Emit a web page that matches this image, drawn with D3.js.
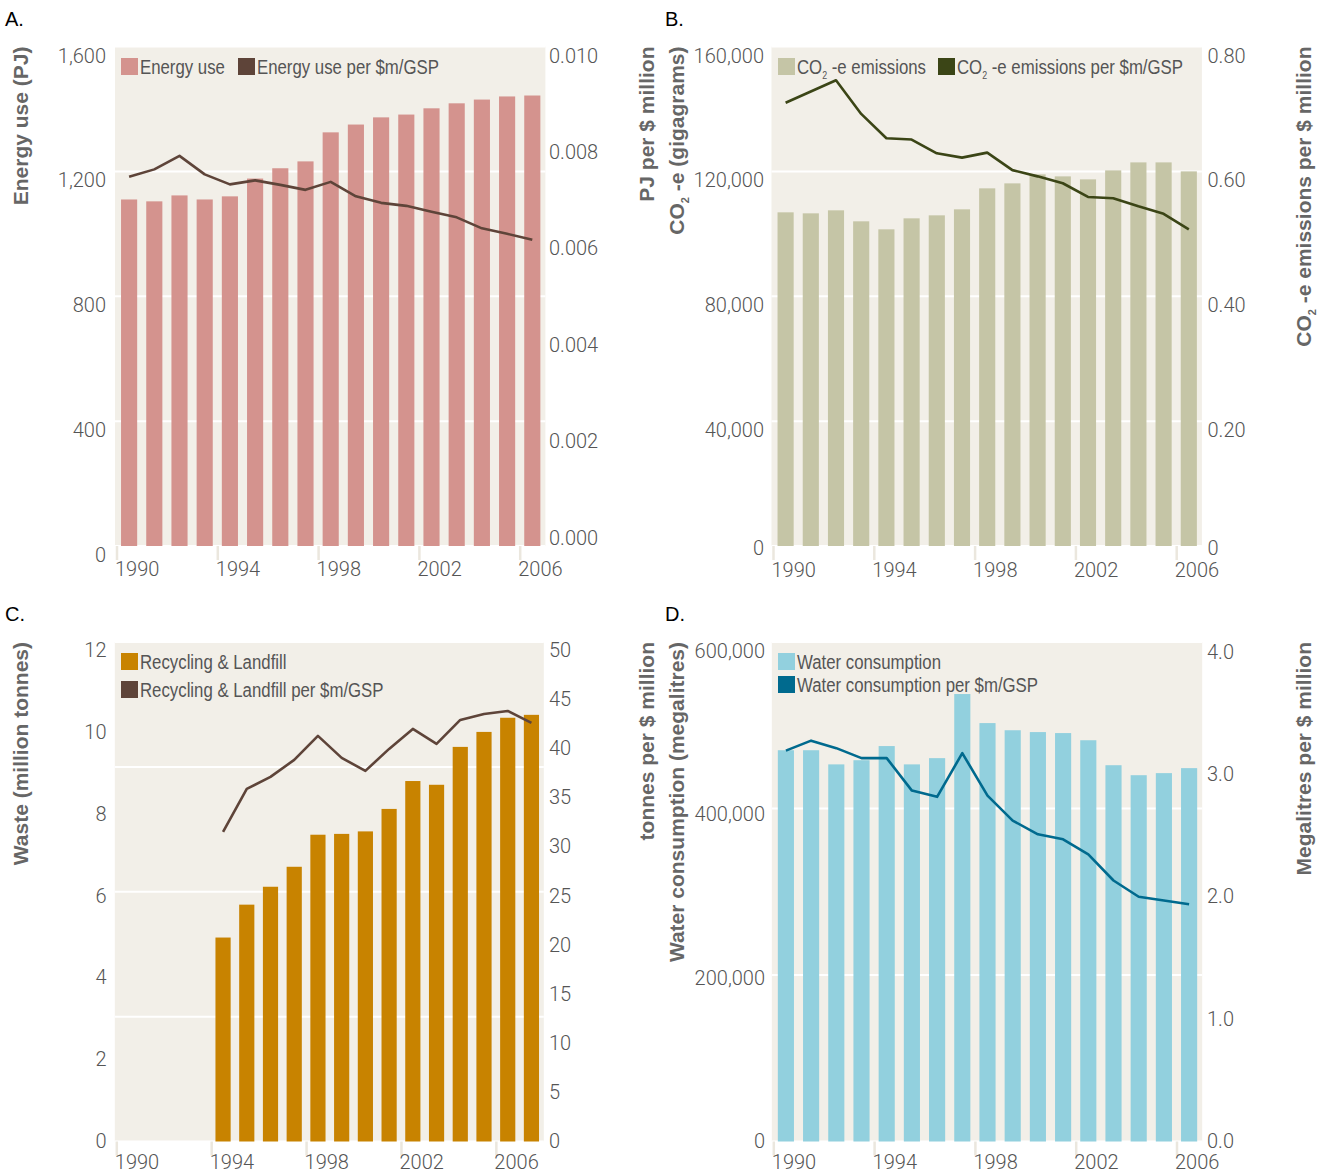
<!DOCTYPE html>
<html><head><meta charset="utf-8">
<script src="https://cdn.jsdelivr.net/npm/d3@7"></script>
<style>
body{margin:0;background:#fff;}
svg{display:block;}
.tk{font-family:Roboto,"Liberation Sans",sans-serif;font-weight:300;font-size:20px;fill:#555;}
.ttl{font-family:"Liberation Sans",Arial,sans-serif;font-weight:bold;font-size:21px;fill:#666;}
.lg{font-family:"Liberation Sans",Arial,sans-serif;font-size:21px;fill:#555;}
.pl{font-family:"Liberation Sans",Arial,sans-serif;font-size:20px;fill:#000;}
</style></head><body>
<svg id="c" width="1327" height="1173"></svg>
<script>
// ---------- data ----------
const years = [1990,1991,1992,1993,1994,1995,1996,1997,1998,1999,2000,2001,2002,2003,2004,2005,2006];
const yearsC = [1990,1991,1992,1993,1994,1995,1996,1997,1998,1999,2000,2001,2002,2003,2004,2005,2006,2007];
const yearTicks = [1990,1994,1998,2002,2006];

const energyUse = [1110,1104,1123,1110,1120,1177,1210,1232,1325,1350,1373,1382,1402,1418,1430,1440,1443];
const energyPerGSP = [0.00739,0.00754,0.00781,0.00744,0.00724,0.00732,0.00723,0.00713,0.00729,0.00700,0.00687,0.00681,0.00669,0.00658,0.00636,0.00625,0.00613];

const co2 = [106880,106560,107520,104000,101440,104960,105920,107840,114560,116160,119040,118400,117440,120320,122880,122880,120000];
const co2PerGSP = [0.710,0.728,0.746,0.692,0.653,0.651,0.629,0.622,0.630,0.602,0.592,0.581,0.559,0.557,0.544,0.532,0.507];

const waste = [null,null,null,null,4.90,5.69,6.12,6.60,7.37,7.39,7.45,7.99,8.66,8.57,9.48,9.84,10.18,10.25];
const wastePerGSP = [null,null,null,null,31.0,35.3,36.5,38.2,40.6,38.4,37.1,39.3,41.3,39.8,42.2,42.8,43.1,41.9];

const water = [470000,470000,453000,458000,475000,453000,460500,537500,502600,494000,491800,490600,482000,452000,440000,442500,448500];
const waterPerGSP = [3.13,3.21,3.15,3.07,3.07,2.81,2.76,3.11,2.77,2.57,2.46,2.42,2.30,2.09,1.96,1.93,1.90];

const ticksA_L = [0,400,800,1200,1600];
const labelsA_L = ["0","400","800","1,200","1,600"];
const ticksA_R = [0,0.002,0.004,0.006,0.008,0.010];
const labelsA_R = ["0.000","0.002","0.004","0.006","0.008","0.010"];
const ticksB_L = [0,40000,80000,120000,160000];
const labelsB_L = ["0","40,000","80,000","120,000","160,000"];
const ticksB_R = [0,0.2,0.4,0.6,0.8];
const labelsB_R = ["0","0.20","0.40","0.60","0.80"];
const ticksC_L = [0,2,4,6,8,10,12];
const labelsC_L = ["0","2","4","6","8","10","12"];
const ticksC_R = [0,5,10,15,20,25,30,35,40,45,50];
const labelsC_R = ["0","5","10","15","20","25","30","35","40","45","50"];
const ticksD_L = [0,200000,400000,600000];
const labelsD_L = ["0","200,000","400,000","600,000"];
const ticksD_R = [0,1,2,3,4];
const labelsD_R = ["0.0","1.0","2.0","3.0","4.0"];

// ---------- layout ----------
const panels = [
 {letter:"A.", lx:5, ly:26, cats:years, bars:energyUse, line:energyPerGSP,
  x0:116.5, x1:544.9, top:46.5, bottom:546, lMax:1600, rMax:0.010, grid:[0,400,800,1200,1600],
  lT:ticksA_L, lL:labelsA_L, lR:[555,55.5], lX:106, lClamp:9999,
  rT:ticksA_R, rL:labelsA_R, rR:[537.5,55.5], rX:549, rClamp:9999, xY:570,
  barC:"#d4938e", lineC:"#5e4439",
  legend:[{seg:[{t:"Energy use"}], c:"#d4938e", sx:121, sy:58},
          {seg:[{t:"Energy use per $m/GSP"}], c:"#5e4439", sx:238, sy:58}],
  lTitle:{seg:[{t:"Energy use (PJ)"}], x:27.5}, rTitle:{seg:[{t:"PJ per $ million"}], x:654}},
 {letter:"B.", lx:665, ly:26, cats:years, bars:co2, line:co2PerGSP,
  x0:773, x1:1201.4, top:46.5, bottom:546, lMax:160000, rMax:0.8, grid:[0,40000,80000,120000,160000],
  lT:ticksB_L, lL:labelsB_L, lR:[554.3,55.8], lX:764, lClamp:547.5,
  rT:ticksB_R, rL:labelsB_R, rR:[554.3,55.8], rX:1207.5, rClamp:547.5, xY:570.5,
  barC:"#c5c5a6", lineC:"#3b4516",
  legend:[{seg:[{t:"CO"},{t:"2",sub:true},{t:" -e emissions"}], c:"#c5c5a6", sx:778, sy:58},
          {seg:[{t:"CO"},{t:"2",sub:true},{t:" -e emissions per $m/GSP"}], c:"#3b4516", sx:938, sy:58}],
  lTitle:{seg:[{t:"CO"},{t:"2",sub:true},{t:" -e (gigagrams)"}], x:684},
  rTitle:{seg:[{t:"CO"},{t:"2",sub:true},{t:" -e emissions per $ million"}], x:1311}},
 {letter:"C.", lx:5, ly:621, cats:yearsC, bars:waste, line:wastePerGSP,
  x0:116.3, x1:543.3, top:642, bottom:1141.5, lMax:12, rMax:50, grid:[0,3,6,9,12],
  lT:ticksC_L, lL:labelsC_L, lR:[1141,650], lX:106.5, lClamp:9999,
  rT:ticksC_R, rL:labelsC_R, rR:[1141,650], rX:549, rClamp:9999, xY:1162.5,
  barC:"#c88300", lineC:"#5e4439",
  legend:[{seg:[{t:"Recycling & Landfill"}], c:"#c88300", sx:121, sy:653},
          {seg:[{t:"Recycling & Landfill per $m/GSP"}], c:"#5e4439", sx:121, sy:681}],
  lTitle:{seg:[{t:"Waste (million tonnes)"}], x:27.5}, rTitle:{seg:[{t:"tonnes per $ million"}], x:654}},
 {letter:"D.", lx:665, ly:621, cats:years, bars:water, line:waterPerGSP,
  x0:773.3, x1:1201.7, top:642, bottom:1141.5, lMax:600000, rMax:4, grid:[0,200000,400000,600000],
  lT:ticksD_L, lL:labelsD_L, lR:[1141,650.5], lX:765, lClamp:9999,
  rT:ticksD_R, rL:labelsD_R, rR:[1141,651.7], rX:1207, rClamp:9999, xY:1162.5,
  barC:"#92d0de", lineC:"#006a8e",
  legend:[{seg:[{t:"Water consumption"}], c:"#92d0de", sx:778, sy:653},
          {seg:[{t:"Water consumption per $m/GSP"}], c:"#006a8e", sx:778, sy:676}],
  lTitle:{seg:[{t:"Water consumption (megalitres)"}], x:684}, rTitle:{seg:[{t:"Megalitres per $ million"}], x:1311}}
];

const svg = d3.select("#c");

function addSegs(textSel, segs, subSize, subDy){
  let lastSub = false;
  segs.forEach(s=>{
    if(s.sub){
      textSel.append("tspan").attr("font-size", subSize).attr("dy", subDy).text(s.t);
    } else {
      const ts = textSel.append("tspan").text(s.t);
      if(lastSub){ ts.attr("dy", -subDy); }
    }
    lastSub = !!s.sub;
  });
}

panels.forEach(p=>{
  const g = svg.append("g");
  const x = d3.scaleBand().domain(p.cats).range([p.x0,p.x1]).paddingInner(0.36).paddingOuter(0.18);
  const yL = d3.scaleLinear().domain([0,p.lMax]).range([p.bottom,p.top]);
  const yR = d3.scaleLinear().domain([0,p.rMax]).range([p.bottom,p.top]);
  const yLL = d3.scaleLinear().domain([0,p.lMax]).range(p.lR);
  const yRL = d3.scaleLinear().domain([0,p.rMax]).range(p.rR);
  const half = x.step()*x.paddingInner()/2;

  g.append("text").attr("class","pl").attr("x",p.lx).attr("y",p.ly).text(p.letter);

  g.append("rect").attr("x",p.x0-1.5).attr("y",p.top).attr("width",p.x1-p.x0+2)
   .attr("height",p.bottom-p.top).attr("fill","#f2efe8");

  g.selectAll(".grid").data(p.grid).join("line")
   .attr("x1",p.x0-1.5).attr("x2",p.x1+0.5)
   .attr("y1",d=>yL(d)).attr("y2",d=>yL(d))
   .attr("stroke","#fff").attr("stroke-width",2);

  g.selectAll(".xt").data(yearTicks).join("line")
   .attr("x1",d=>x(d)-half+0.5).attr("x2",d=>x(d)-half+0.5)
   .attr("y1",p.bottom).attr("y2",p.bottom+14)
   .attr("stroke","#ebe7de").attr("stroke-width",2.5);

  const idx = p.cats.map((c,i)=>i).filter(i=>p.bars[i]!=null);
  g.selectAll(".bar").data(idx).join("rect")
   .attr("x",i=>x(p.cats[i])).attr("width",x.bandwidth())
   .attr("y",i=>yL(p.bars[i])).attr("height",i=>p.bottom-yL(p.bars[i]))
   .attr("fill",p.barC);

  const line = d3.line().defined(d=>d.v!=null)
    .x(d=>x(d.c)+x.bandwidth()/2).y(d=>yR(d.v));
  g.append("path").datum(p.cats.map((c,i)=>({c:c,v:p.line[i]})))
   .attr("d",line).attr("fill","none").attr("stroke",p.lineC).attr("stroke-width",2.6)
   .attr("stroke-linejoin","round");

  g.selectAll(".ll").data(p.lT).join("text").attr("class","tk")
   .attr("x",p.lX).attr("y",d=>Math.min(yLL(d),p.lClamp)+7).attr("text-anchor","end")
   .text((d,i)=>p.lL[i]);
  g.selectAll(".rl").data(p.rT).join("text").attr("class","tk")
   .attr("x",p.rX).attr("y",d=>Math.min(yRL(d),p.rClamp)+7).attr("text-anchor","start")
   .text((d,i)=>p.rL[i]);
  g.selectAll(".xl").data(yearTicks).join("text").attr("class","tk")
   .attr("x",d=>x(d)-half-1.5).attr("y",p.xY+6).attr("text-anchor","start")
   .text(d=>d);

  p.legend.forEach(l=>{
    g.append("rect").attr("x",l.sx).attr("y",l.sy).attr("width",17).attr("height",17).attr("fill",l.c);
    const t = g.append("text").attr("class","lg")
      .attr("transform",`translate(${l.sx+19},${l.sy+16}) scale(0.8,1)`);
    addSegs(t,l.seg,"11px",5);
  });

  [p.lTitle,p.rTitle].forEach(tt=>{
    const t = g.append("text").attr("class","ttl")
      .attr("transform",`translate(${tt.x},${p.top}) rotate(-90)`)
      .attr("text-anchor","end");
    addSegs(t,tt.seg,"11px",5);
  });
});
</script>
</body></html>
